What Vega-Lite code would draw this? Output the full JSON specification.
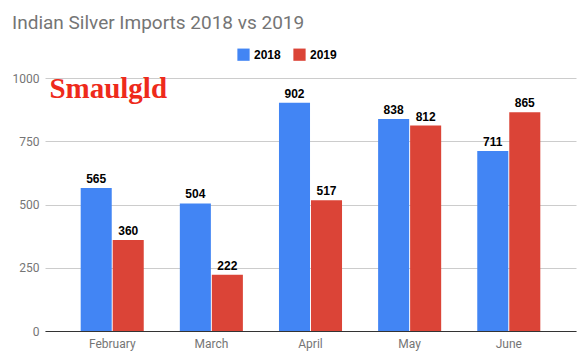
{
  "$schema": "https://vega.github.io/schema/vega-lite/v6.json",
  "width": 531,
  "height": 253,
  "autosize": "none",
  "padding": {"left": 45, "top": 78, "right": 7, "bottom": 26},
  "background": "white",
  "title": {
    "text": "Indian Silver Imports 2018 vs 2019",
    "anchor": "start",
    "frame": "group",
    "dx": -33,
    "offset": 15,
    "font": "Roboto",
    "fontSize": 19,
    "fontWeight": "normal",
    "color": "#757575"
  },
  "config": {
    "view": {"stroke": null},
    "font": "Roboto"
  },
  "data": {
    "values": [
      {"month": "February", "year": "2018", "value": 565},
      {"month": "February", "year": "2019", "value": 360},
      {"month": "March", "year": "2018", "value": 504},
      {"month": "March", "year": "2019", "value": 222},
      {"month": "April", "year": "2018", "value": 902},
      {"month": "April", "year": "2019", "value": 517},
      {"month": "May", "year": "2018", "value": 838},
      {"month": "May", "year": "2019", "value": 812},
      {"month": "June", "year": "2018", "value": 711},
      {"month": "June", "year": "2019", "value": 865}
    ]
  },
  "encoding": {
    "x": {
      "field": "month",
      "type": "nominal",
      "sort": ["February", "March", "April", "May", "June"],
      "scale": {"paddingInner": 0.364, "paddingOuter": 0.36},
      "axis": {
        "title": null,
        "labelAngle": 0,
        "ticks": false,
        "domainColor": "#333333",
        "domainWidth": 1,
        "labelColor": "#757575",
        "labelFontSize": 12,
        "labelPadding": 7,
        "grid": false
      }
    },
    "y": {
      "field": "value",
      "type": "quantitative",
      "scale": {"domain": [0, 1000]},
      "axis": {
        "title": null,
        "values": [0, 250, 500, 750, 1000],
        "format": "d",
        "domain": false,
        "ticks": false,
        "gridColor": "#cccccc",
        "labelColor": "#757575",
        "labelFontSize": 12,
        "labelPadding": 6
      }
    }
  },
  "layer": [
    {
      "mark": {"type": "bar"},
      "encoding": {
        "xOffset": {"field": "year", "type": "nominal", "scale": {"paddingInner": 0.03}},
        "color": {
          "field": "year",
          "type": "nominal",
          "scale": {"domain": ["2018", "2019"], "range": ["#4285F4", "#DB4437"]},
          "legend": {
            "title": null,
            "orient": "none",
            "direction": "horizontal",
            "legendX": 192,
            "legendY": -30,
            "symbolType": "square",
            "symbolSize": 150,
            "symbolStrokeWidth": 0,
            "symbolOpacity": 1,
            "labelFontSize": 12,
            "labelFontWeight": "bold",
            "labelColor": "#000000",
            "labelFont": "Liberation Sans",
            "columnPadding": 12
          }
        }
      }
    },
    {
      "mark": {"type": "text", "dy": -9, "font": "Liberation Sans", "fontWeight": "bold", "fontSize": 12, "color": "#000000"},
      "encoding": {
        "xOffset": {"field": "year", "type": "nominal", "scale": {"paddingInner": 0.03}},
        "text": {"field": "value", "type": "quantitative"}
      }
    },
    {
      "data": {"values": [{"month": "February", "value": 958, "logo": "Smaulgld"}]},
      "mark": {"type": "text", "font": "Liberation Serif", "fontWeight": "bold", "fontSize": 29, "color": "#ee2a1b", "dx": -4},
      "encoding": {
        "text": {"field": "logo"}
      }
    }
  ]
}
